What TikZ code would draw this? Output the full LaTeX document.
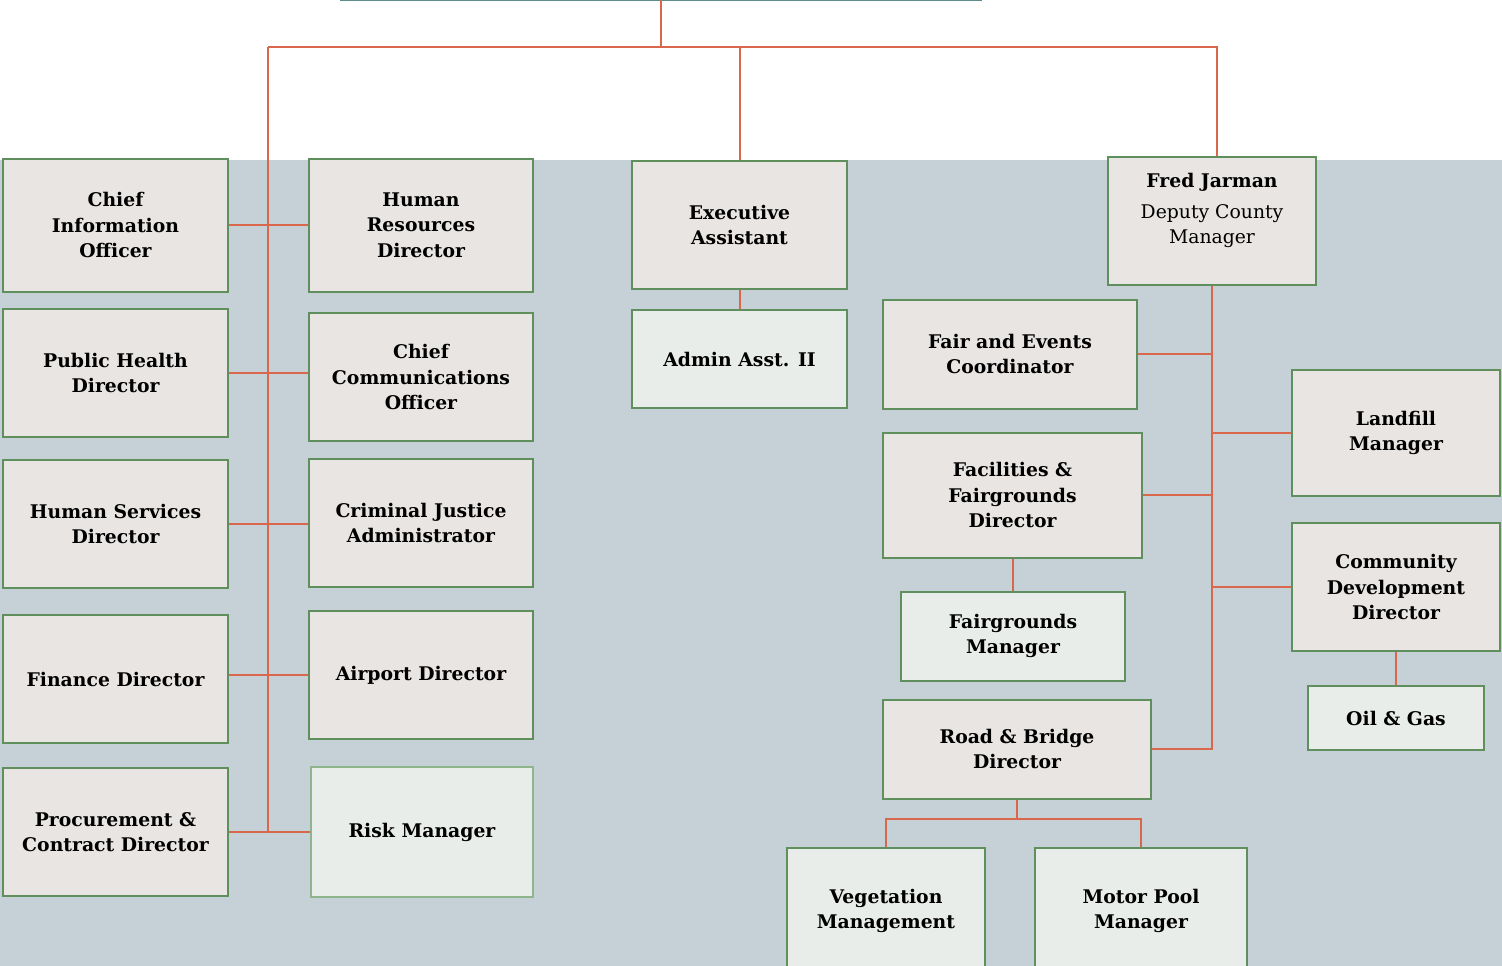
\documentclass[tikz,border=0pt]{standalone}
\usepackage{fontspec}
\setmainfont{DejaVu Serif}
\usepackage{tikz}
\usetikzlibrary{calc}
\usetikzlibrary{positioning}
\definecolor{bgblue}{HTML}{C5D0D7}
\definecolor{boxfill}{HTML}{E8E5E2}
\definecolor{lightfill}{HTML}{E9EDE9}
\definecolor{boxline}{HTML}{5F8F5D}
\definecolor{paleline}{HTML}{8FB58C}
\definecolor{linkred}{HTML}{D9674C}
\definecolor{tealline}{HTML}{5C8C8C}
\newcommand{\boxfont}{\bfseries\fontsize{18.8}{25.5}\selectfont}

\begin{document}
\begin{tikzpicture}[x=1pt,y=-1pt,
    box/.style={draw=boxline,line width=2pt,fill=boxfill,align=center,
      font=\boxfont,inner sep=0pt,minimum width=#1},
    box/.default=225pt,
    lightbox/.style={box=#1,fill=lightfill},
    lightbox/.default=225pt,
    link/.style={draw=linkred,line width=2pt}]
  \useasboundingbox (0,0) rectangle (1502,966);
  \clip (0,0) rectangle (1502,966);
  \fill[bgblue] (0,160) rectangle (1502,966);
  \draw[tealline,line width=2.5pt] (340,0) -- (982,0);

  % left columns
  \node[box,minimum height=133pt] (CIO)  at (115.5,225) {Chief\\Information\\Officer};
  \node[box,minimum height=128pt] (PH)   at (115.5,373)   {Public Health\\Director};
  \node[box,minimum height=128pt] (HS)   at (115.5,524)   {Human Services\\Director};
  \node[box,minimum height=128pt] (FIN)  at (115.5,679)   {Finance Director};
  \node[box,minimum height=128pt] (PROC) at (115.5,832)   {Procurement \&\\Contract Director};
  \node[box=224pt,minimum height=133pt] (HR)  at (421,225) {Human\\Resources\\Director};
  \node[box=224pt,minimum height=128pt] (CCO) at (421,377)   {Chief\\Communications\\Officer};
  \node[box=224pt,minimum height=128pt] (CJA) at (421,523)   {Criminal Justice\\Administrator};
  \node[box=224pt,minimum height=128pt] (AIR) at (421,675)   {Airport Director};
  \node[lightbox=222pt,draw=paleline,minimum height=130pt] (RISK) at (422,832) {Risk Manager};

  % middle
  \node[box=215pt,minimum height=128pt] (EA)  at (739.5,225) {Executive\\Assistant};
  \node[lightbox=215pt,minimum height=98pt] (ADM) at (739.5,359) {Admin Asst. II};

  % right side
  \node[box=208pt,minimum height=128pt] (FJ) at (1212,221)
    {Fred Jarman\\[5pt]{\mdseries Deputy County}\\{\mdseries Manager}\\[-1pt]};
  \node[box=254pt,minimum height=109pt] (FAIR) at (1010,354) {Fair and Events\\Coordinator};
  \node[box=208pt,minimum height=126pt] (LAND) at (1396,433)   {Landfill\\Manager};
  \node[box=259pt,minimum height=125pt] (FAC)  at (1012.5,495) {Facilities \&\\Fairgrounds\\Director};
  \node[box=208pt,minimum height=128pt] (CDD)  at (1396,587)   {Community\\Development\\Director};
  \node[lightbox=176pt,minimum height=64pt] (OIL) at (1396,718) {Oil \& Gas};
  \node[lightbox=224pt,minimum height=89pt] (FGM) at (1013,636) {Fairgrounds\\Manager};
  \node[box=268pt,minimum height=99pt] (RB)   at (1017,749) {Road \& Bridge\\Director};
  \node[lightbox=198pt,minimum height=126pt] (VEG) at (886,911) {Vegetation\\Management};
  \node[lightbox=212pt,minimum height=126pt] (MP)  at (1141,911) {Motor Pool\\Manager};

  % connectors
  \coordinate (topin) at (661,0);
  \coordinate (barL)  at (268,47.5);
  \coordinate (barR)  at (1217,47.5);
  \draw[link] (topin) -- (topin |- barL);
  \draw[link] (barL) -- (barR) -- (barR |- FJ.north);
  \draw[link] (EA.north) -- (EA.north |- barL);
  \draw[link] (barL) -- (barL |- PROC.east);
  \draw[link] (CIO.east) -- (HR.west);
  \draw[link] (PH.east) -- (PH.east -| CCO.west);
  \draw[link] (HS.east) -- (HS.east -| CJA.west);
  \draw[link] (AIR.west) -- (AIR.west -| FIN.east);
  \draw[link] (PROC.east) -- (RISK.west);
  \draw[link] (EA.south) -- (ADM.north);
  \draw[link] (FJ.south) -- (FJ.south |- RB.east) -- (RB.east);
  \draw[link] (FAIR.east) -- (FAIR.east -| FJ.south);
  \draw[link] (FAC.east) -- (FAC.east -| FJ.south);
  \draw[link] (LAND.west) -- (LAND.west -| FJ.south);
  \draw[link] (CDD.west) -- (CDD.west -| FJ.south);
  \draw[link] (CDD.south) -- (OIL.north);
  \draw[link] (FAC.south) -- (FAC.south |- FGM.north);
  \coordinate (rbfork) at ($(RB.south)+(0,19)$);
  \draw[link] (RB.south) -- (rbfork);
  \draw[link] (VEG.north) |- (rbfork) -| (MP.north);
\end{tikzpicture}
\end{document}
